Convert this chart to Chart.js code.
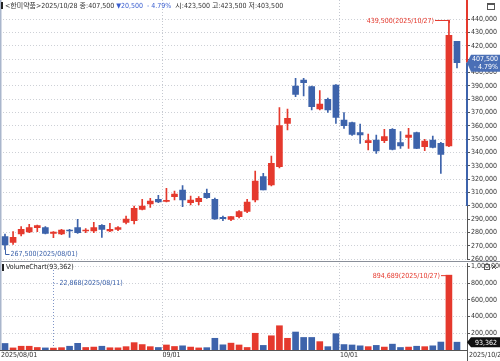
<!DOCTYPE html>
<html>
<head>
<meta charset="utf-8">
<script src="https://cdn.jsdelivr.net/npm/chart.js@4.4.1/dist/chart.umd.min.js"></script>
<style>
    body { margin: 0; background: #fff; }
    #wrap { position: relative; width: 500px; height: 361px; overflow: hidden; background: #fff; }
    #price { position: absolute; left: 0; top: 0; }
    #vol { position: absolute; left: 0; top: 261px; background: #fff; }
</style>
</head>
<body>
<div id="wrap">
    <canvas id="price" width="500" height="275"></canvas>
    <canvas id="vol" width="500" height="100"></canvas>
</div>
<script>
// daily candles, 2025/08/01 .. 2025/10/28
const dates = [
    '2025/08/01','2025/08/04','2025/08/05','2025/08/06','2025/08/07','2025/08/08',
    '2025/08/11','2025/08/12','2025/08/13','2025/08/14','2025/08/18','2025/08/19',
    '2025/08/20','2025/08/21','2025/08/22','2025/08/25','2025/08/26','2025/08/27',
    '2025/08/28','2025/08/29','2025/09/01','2025/09/02','2025/09/03','2025/09/04',
    '2025/09/05','2025/09/08','2025/09/09','2025/09/10','2025/09/11','2025/09/12',
    '2025/09/15','2025/09/16','2025/09/17','2025/09/18','2025/09/19','2025/09/22',
    '2025/09/23','2025/09/24','2025/09/25','2025/09/26','2025/09/29','2025/09/30',
    '2025/10/01','2025/10/02','2025/10/10','2025/10/13','2025/10/14','2025/10/15',
    '2025/10/16','2025/10/17','2025/10/20','2025/10/21','2025/10/22','2025/10/23',
    '2025/10/24','2025/10/27','2025/10/28'
];
const openP = [
    277000, 272750, 279000, 280500, 283750, 283750, 279500, 279000, 282000, 283750,
    281250, 281250, 285500, 281250, 282500, 287750, 289000, 297500, 301500, 305000,
    303500, 307000, 312000, 302500, 303250, 309500, 305000, 291500, 290000, 292000,
    296000, 304500, 322000, 315750, 329500, 362000, 390000, 394500, 389500, 372750,
    380000, 390750, 364500, 362500, 355000, 347500, 349500, 349000, 357500, 347500,
    351500, 355000, 344500, 349500, 347000, 345000, 423500
];
const highP = [
    279000, 280750, 284500, 286250, 285750, 284500, 280750, 282500, 282500, 290000,
    283000, 287750, 286000, 287000, 284500, 292500, 300000, 305000, 305750, 308000,
    313250, 311250, 315250, 307500, 307000, 312750, 306000, 292500, 292000, 296500,
    305000, 326250, 324500, 337500, 373750, 372750, 395750, 395750, 390000, 386500,
    381000, 391000, 370000, 363000, 361500, 354000, 353250, 357500, 358000, 355750,
    358250, 355500, 350000, 352500, 347750, 439500, 423500
];
const lowP = [
    267500, 271250, 277500, 280000, 280750, 279000, 276250, 278500, 276500, 279500,
    280000, 280000, 276500, 280750, 281500, 286500, 286500, 297000, 299000, 302500,
    303000, 304500, 299500, 300750, 300750, 305750, 290000, 289000, 289000, 291000,
    295000, 303000, 312000, 315000, 328500, 357000, 382000, 382500, 372000, 372000,
    370250, 362000, 358250, 353000, 347000, 342000, 339500, 347500, 342000, 343250,
    343250, 343000, 341500, 343500, 324500, 344500, 403500
];
const closeP = [
    270750, 276500, 282500, 283750, 285250, 279500, 280500, 282000, 281250, 280000,
    282000, 283750, 282500, 282500, 283750, 290250, 298250, 300000, 303750, 303000,
    304250, 309000, 304500, 304500, 305750, 306250, 290250, 290500, 292000, 295750,
    303000, 318750, 312000, 332000, 360250, 365750, 383750, 392500, 374500, 376500,
    372000, 366500, 360250, 353750, 353250, 349000, 341250, 352000, 342500, 345000,
    353250, 343250, 348750, 344000, 338750, 428000, 407500
];
const volume = [
    78000, 25000, 45000, 45000, 30000, 25000, 22868, 28000, 45000, 80000,
    30000, 35000, 45000, 27000, 26000, 40000, 88000, 65000, 40000, 30000,
    60000, 42000, 50000, 35000, 25000, 28000, 140000, 62000, 82000, 60000,
    30000, 200000, 55000, 170000, 290000, 140000, 215000, 150000, 150000, 100000,
    40000, 195000, 65000, 60000, 50000, 40000, 55000, 35000, 70000, 30000,
    35000, 45000, 40000, 50000, 95000, 894689, 93362
];
const priceTicks = [260000, 270000, 280000, 290000, 300000, 310000, 320000, 330000, 340000,
    350000, 360000, 370000, 380000, 390000, 400000, 410000, 420000, 430000, 440000];
const volTicks = [200000, 400000, 600000, 800000, 1000000];
const monthTicks = [-0.5, 19.5, 41.5];
const monthLabels = ['2025/08/01', '09/01', '10/01'];
const stockName = '한미약품';

const RED = '#e5392d';
const BLUE = '#3d63ab';
const TXT = '#333';
const FONT = '"Liberation Sans Narrow", "DejaVu Sans Condensed", "Noto Sans CJK KR", sans-serif';
const idx = dates.map((d, i) => i);
const colors = idx.map(i => closeP[i] >= openP[i] ? RED : BLUE);
const fmt = v => Math.round(v).toLocaleString('en-US');

const X_MIN = -0.62, X_MAX = 57.24;

function fixedAxis(width) {
    return s => {
        s.width = width;
        s.paddingTop = 0; s.paddingBottom = 0;
    };
}

// ---------- price panel ----------
const priceDeco = {
    id: 'priceDeco',
    afterDraw(chart) {
        const { ctx, scales: { x, y } } = chart;
        ctx.save();
        // left frame
        ctx.fillStyle = '#a9b6cc';
        ctx.fillRect(0, 0, 1.5, 261);
        // price range marks on the axis line
        const last = closeP.length - 1;
        const yLast = y.getPixelForValue(closeP[last]);
        ctx.fillStyle = RED;
        ctx.fillRect(466, 0, 2, yLast);
        ctx.fillStyle = BLUE;
        ctx.fillRect(466, yLast, 2, y.getPixelForValue(300000) - yLast);

        // header
        const chg = closeP[last] - closeP[last - 1];
        const pct = chg / closeP[last - 1] * 100;
        const parts = [
            ['<' + stockName + '>' + dates[last] + ' 종:' + fmt(closeP[last]) + ' ', TXT],
            ['▼' + fmt(Math.abs(chg)) + '  - ' + Math.abs(pct).toFixed(2) + '% ', '#3a5fd0'],
            [' 시:' + fmt(openP[last]) + ' 고:' + fmt(highP[last]) + ' 저:' + fmt(lowP[last]), TXT]
        ];
        ctx.fillStyle = '#222';
        ctx.fillRect(1, 2, 2, 7);
        ctx.font = '7px ' + FONT;
        ctx.textBaseline = 'middle';
        let tx = 5;
        for (const [t, c] of parts) {
            ctx.fillStyle = c;
            ctx.fillText(t, tx, 6);
            tx += ctx.measureText(t).width;
        }

        // window icon
        ctx.strokeStyle = '#555';
        ctx.lineWidth = 1;
        ctx.strokeRect(487.5, 3.5, 7, 6);
        ctx.fillStyle = '#555';
        ctx.fillRect(487, 3, 8, 2);

        // highest point
        const hi = Math.max(...highP), hiI = highP.indexOf(hi);
        const hx = x.getPixelForValue(hiI), hy = y.getPixelForValue(hi);
        ctx.strokeStyle = RED; ctx.fillStyle = RED;
        ctx.beginPath();
        ctx.moveTo(435, hy + 0.5); ctx.lineTo(Math.round(hx) + 0.5, hy + 0.5); ctx.lineTo(Math.round(hx) + 0.5, hy + 3);
        ctx.stroke();
        ctx.textAlign = 'right';
        ctx.fillText(fmt(hi) + '(' + dates[hiI] + ')', 434, hy + 1);

        // lowest point
        const lo = Math.min(...lowP), loI = lowP.indexOf(lo);
        const lx = Math.round(x.getPixelForValue(loI)) + 0.5, ly = y.getPixelForValue(lo);
        ctx.strokeStyle = BLUE; ctx.fillStyle = BLUE;
        ctx.beginPath();
        ctx.moveTo(lx, ly); ctx.lineTo(lx, 254.5); ctx.lineTo(lx + 4, 254.5);
        ctx.stroke();
        ctx.textAlign = 'left';
        ctx.fillText(fmt(lo) + '(' + dates[loI] + ')', lx + 5, 254.5);

        // current price box
        ctx.fillStyle = '#4a6fb6';
        ctx.beginPath();
        ctx.moveTo(467, yLast);
        ctx.lineTo(471, yLast - 8);
        ctx.lineTo(500, yLast - 8);
        ctx.lineTo(500, yLast + 9);
        ctx.lineTo(471, yLast + 9);
        ctx.closePath();
        ctx.fill();
        ctx.fillStyle = '#fff';
        ctx.textAlign = 'right';
        ctx.fillText(fmt(closeP[last]), 498, yLast - 3.5);
        ctx.fillText('- ' + Math.abs(pct).toFixed(2) + '%', 498, yLast + 4.5);
        ctx.restore();
    }
};

new Chart(document.getElementById('price'), {
    type: 'bar',
    data: {
        datasets: [
            {
                data: idx.map(i => ({ x: i, y: [openP[i], closeP[i]] })),
                backgroundColor: colors,
                barThickness: 6,
                minBarLength: 1,
                grouped: false
            },
            {
                data: idx.map(i => ({ x: i, y: [lowP[i], highP[i]] })),
                backgroundColor: colors,
                barThickness: 1,
                grouped: false
            }
        ]
    },
    options: {
        responsive: false,
        devicePixelRatio: 1,
        animation: false,
        layout: { padding: { left: 0, right: 0, top: 0, bottom: 15.7 } },
        plugins: { legend: { display: false }, tooltip: { enabled: false } },
        scales: {
            x: {
                type: 'linear',
                offset: false,
                min: X_MIN,
                max: X_MAX,
                afterBuildTicks: s => { s.ticks = monthTicks.slice(1).map(v => ({ value: v })); },
                afterFit: s => { s.height = 0; s.paddingLeft = 0; s.paddingRight = 0; },
                ticks: { display: false },
                grid: { color: '#c4c8d0', drawTicks: false, offset: false },
                border: { display: false, dash: [1, 2] }
            },
            y: {
                position: 'right',
                min: 260000,
                max: 454500,
                afterBuildTicks: s => { s.ticks = priceTicks.map(v => ({ value: v })); },
                afterFit: fixedAxis(33),
                ticks: {
                    callback: v => fmt(v),
                    font: { family: FONT, size: 7 },
                    color: TXT,
                    padding: 1,
                    autoSkip: false
                },
                grid: { color: '#cdd0d6', tickColor: '#555', tickLength: 3 },
                border: { display: true, color: '#555', width: 1, dash: [1, 2] }
            }
        }
    },
    plugins: [priceDeco]
});

// ---------- volume panel ----------
const volDeco = {
    id: 'volDeco',
    afterDraw(chart) {
        const { ctx, scales: { x, y } } = chart;
        ctx.save();
        ctx.fillStyle = '#8a8f99';
        ctx.fillRect(0, 0, 500, 1);
        ctx.fillStyle = '#a9b6cc';
        ctx.fillRect(0, 0, 1.5, 89);
        ctx.font = '7px ' + FONT;
        ctx.textBaseline = 'middle';
        // title
        const last = volume.length - 1;
        ctx.fillStyle = '#222';
        ctx.fillRect(2, 3, 2, 7);
        ctx.fillText('VolumeChart(' + fmt(volume[last]) + ')', 6, 6.5);
        // icons
        ctx.strokeStyle = '#555';
        ctx.strokeRect(484.5, 3.5, 5, 5);
        ctx.beginPath();
        ctx.moveTo(492, 4); ctx.lineTo(496, 8); ctx.moveTo(496, 4); ctx.lineTo(492, 8);
        ctx.stroke();

        // lowest volume
        const lo = Math.min(...volume), loI = volume.indexOf(lo);
        const lx = Math.round(x.getPixelForValue(loI)) + 0.5;
        ctx.strokeStyle = '#7f95c8';
        ctx.setLineDash([1, 2]);
        ctx.beginPath();
        ctx.moveTo(lx, 9); ctx.lineTo(lx, y.getPixelForValue(lo));
        ctx.moveTo(lx, 22.5); ctx.lineTo(lx + 5, 22.5);
        ctx.stroke();
        ctx.setLineDash([]);
        ctx.fillStyle = BLUE;
        ctx.fillText(fmt(lo) + '(' + dates[loI] + ')', lx + 6, 22.5);

        // highest volume
        const hi = Math.max(...volume), hiI = volume.indexOf(hi);
        const hx = Math.round(x.getPixelForValue(hiI)) + 0.5, hy = y.getPixelForValue(hi);
        ctx.strokeStyle = RED; ctx.fillStyle = RED;
        ctx.beginPath();
        ctx.moveTo(441, hy + 0.5); ctx.lineTo(hx, hy + 0.5);
        ctx.stroke();
        ctx.textAlign = 'right';
        ctx.fillText(fmt(hi) + '(' + dates[hiI] + ')', 440, hy + 1);

        // current volume box
        const vy = y.getPixelForValue(volume[last]);
        ctx.fillStyle = '#111';
        ctx.beginPath();
        ctx.moveTo(467, vy); ctx.lineTo(471, vy - 5); ctx.lineTo(500, vy - 5);
        ctx.lineTo(500, vy + 5); ctx.lineTo(471, vy + 5); ctx.closePath();
        ctx.fill();
        ctx.fillStyle = '#fff';
        ctx.fillText(fmt(volume[last]), 497, vy + 0.5);

        // last date
        ctx.fillStyle = TXT;
        ctx.textAlign = 'left';
        ctx.fillText(dates[last], 469, 94.5);
        ctx.fillStyle = '#555';
        ctx.fillRect(467, 89, 1, 11);
        ctx.restore();
    }
};

new Chart(document.getElementById('vol'), {
    type: 'bar',
    data: {
        datasets: [{
            data: idx.map(i => ({ x: i, y: volume[i] })),
            backgroundColor: colors,
            barThickness: 6,
            minBarLength: 1
        }]
    },
    options: {
        responsive: false,
        devicePixelRatio: 1,
        animation: false,
        layout: { padding: { left: 0, right: 0, top: 2, bottom: 0 } },
        plugins: { legend: { display: false }, tooltip: { enabled: false } },
        scales: {
            x: {
                type: 'linear',
                offset: false,
                min: X_MIN,
                max: X_MAX,
                afterBuildTicks: s => { s.ticks = monthTicks.map(v => ({ value: v })); },
                afterFit: s => { s.height = 11; s.paddingLeft = 0; s.paddingRight = 0; },
                ticks: {
                    callback: (v, i) => monthLabels[i],
                    align: 'start',
                    maxRotation: 0,
                    autoSkip: false,
                    font: { family: FONT, size: 7 },
                    color: TXT,
                    padding: 1
                },
                grid: { color: '#c4c8d0', drawTicks: false, offset: false },
                border: { display: true, color: '#555', dash: [1, 2] }
            },
            y: {
                position: 'right',
                min: 0,
                max: 1040000,
                afterBuildTicks: s => { s.ticks = volTicks.map(v => ({ value: v })); },
                afterFit: fixedAxis(33),
                ticks: {
                    callback: v => fmt(v),
                    font: { family: FONT, size: 7 },
                    color: TXT,
                    padding: 1,
                    autoSkip: false
                },
                grid: { color: '#cdd0d6', tickColor: '#555', tickLength: 3 },
                border: { display: true, color: '#555', width: 1, dash: [1, 2] }
            }
        }
    },
    plugins: [volDeco]
});
</script>
</body>
</html>
